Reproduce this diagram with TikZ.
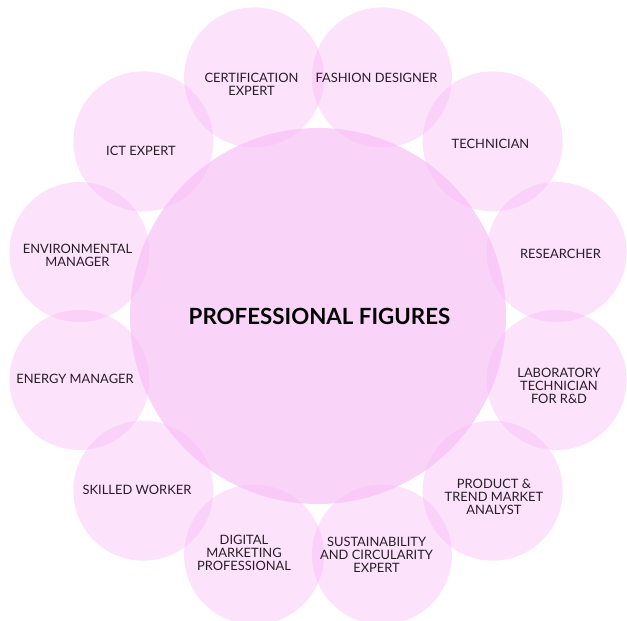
\documentclass[tikz,border=0pt]{standalone}
\usepackage{fontspec}
\setmainfont{Lato}
\usetikzlibrary{calc}
\definecolor{petal}{RGB}{248,190,246}
\definecolor{labeltext}{RGB}{40,30,40}
\tikzset{
  x=1pt, y=-1pt,
  petalc/.style={circle, fill=petal, fill opacity=0.45, draw=none, minimum size=140pt, inner sep=0pt},
  hubc/.style={circle, fill=petal, fill opacity=0.68, draw=none, minimum size=376pt, inner sep=0pt},
  lbl/.style={text=labeltext, align=center, font=\fontsize{12.9}{13}\selectfont, inner sep=0pt},
  title/.style={text=black, font=\fontsize{22.3}{24}\selectfont\bfseries, inner sep=0pt}
}
\begin{document}
\begin{tikzpicture}
\useasboundingbox (0,0) rectangle (627,621);
\coordinate (o) at (318,316);
\node[hubc] (hub) at (o) {};
\foreach \ang/\nm in {75/c1,105/c2,135/c3,165/c4,195/c5,225/c6,255/c7,285/c8,315/c9,345/c10,15/c11,45/c12}{
  \node[petalc] (\nm) at ($(o)+({247*cos(\ang)},{-247*sin(\ang)})$) {};
}
\node[title] (ttl) at (319.5,316) {PROFESSIONAL FIGURES};
\node[lbl] (t1) at (376.5,78) {FASHION DESIGNER};
\node[lbl] (t2) at (251.5,84) {CERTIFICATION\\EXPERT};
\node[lbl] (t3) at (141,151) {ICT EXPERT};
\node[lbl] (t4) at (77.5,255) {ENVIRONMENTAL\\MANAGER};
\node[lbl] (t5) at (75,379) {ENERGY MANAGER};
\node[lbl] (t6) at (137,490) {SKILLED WORKER};
\node[lbl] (t7) at (244,553) {DIGITAL\\MARKETING\\PROFESSIONAL};
\node[lbl] (t8) at (376.5,555) {SUSTAINABILITY\\AND CIRCULARITY\\EXPERT};
\node[lbl] (t9) at (494,497) {PRODUCT \&\\TREND MARKET\\ANALYST};
\node[lbl] (t10) at (559,386) {LABORATORY\\TECHNICIAN\\FOR R\&D};
\node[lbl] (t11) at (560.5,254) {RESEARCHER};
\node[lbl] (t12) at (490.5,144) {TECHNICIAN};
\end{tikzpicture}
\end{document}
